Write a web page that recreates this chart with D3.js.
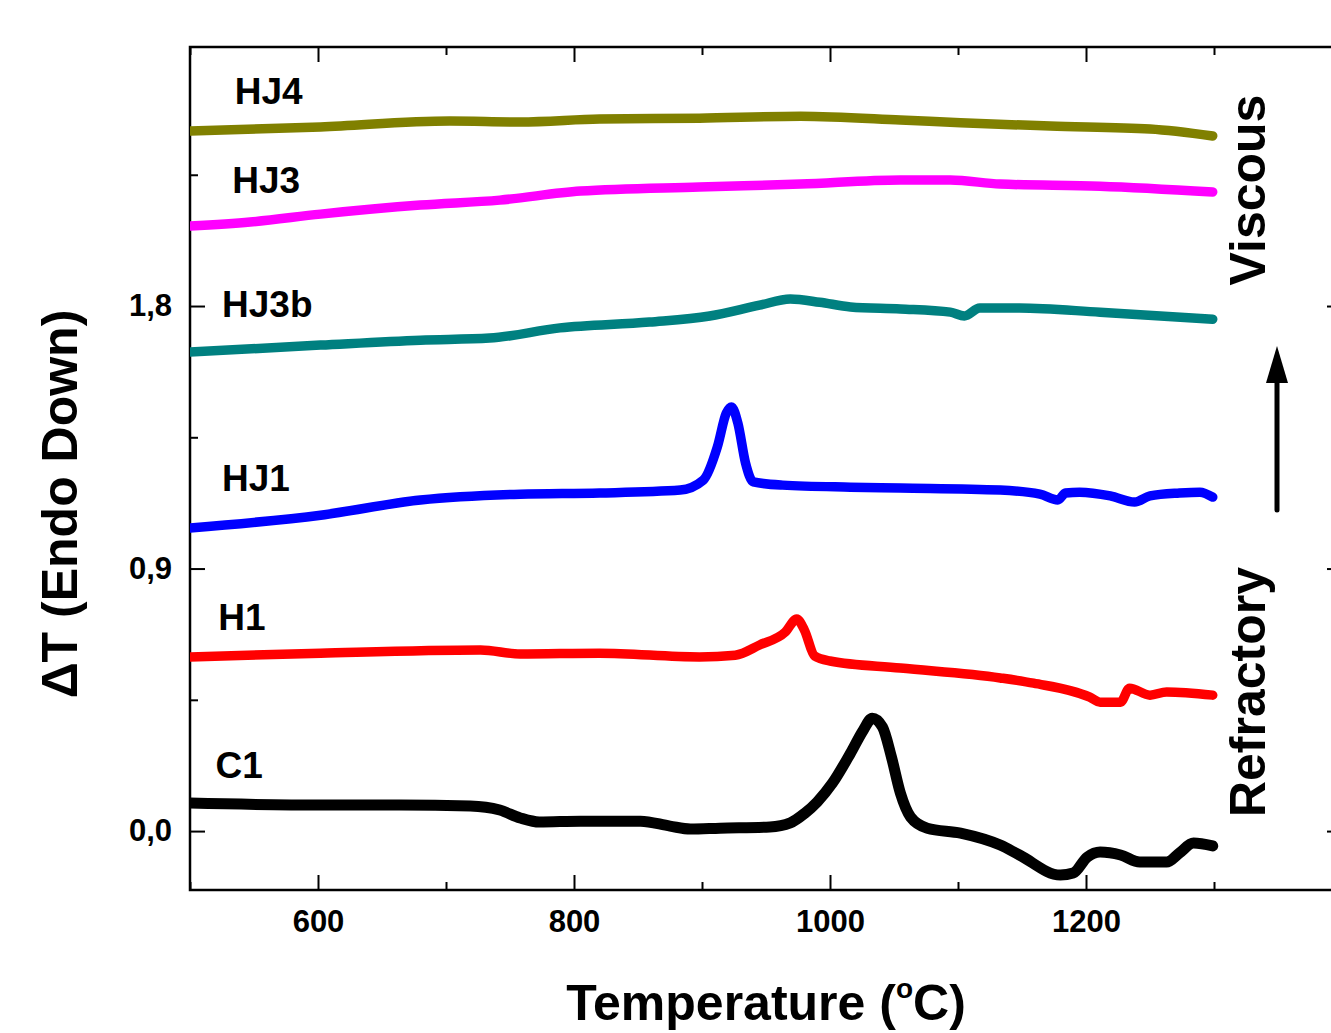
<!DOCTYPE html>
<html>
<head>
<meta charset="utf-8">
<script src="https://cdn.jsdelivr.net/npm/d3@7/dist/d3.min.js"></script>
<style>
    body { margin: 0; background: #fff; }
    text { font-family: Arial, "Liberation Sans", sans-serif; font-weight: bold; fill: #000; }
    .tick-label { font-size: 31px; }
    .curve-label { font-size: 37px; }
    .axis-title { font-size: 50px; }
</style>
</head>
<body>
<div id="dta-chart"></div>
<script>

// DTA curves, temperature (C) / delta T pairs
var C1 = [[500,0.096],[602,0.089],[664,0.089],[719,0.086],[742,0.072],[758,0.045],[773,0.031],[805,0.034],
    [852,0.034],[875,0.017],[891,0.007],[914,0.010],[953,0.014],[969,0.028],[980,0.060],[990,0.100],
    [1002,0.165],[1016,0.267],[1026,0.346],[1033,0.387],[1041,0.357],[1048,0.254],[1055,0.130],[1063,0.048],
    [1076,0.010],[1102,-0.007],[1133,-0.048],[1148,-0.082],[1180,-0.151],[1190,-0.144],[1201,-0.089],
    [1211,-0.072],[1227,-0.082],[1242,-0.106],[1263,-0.106],[1273,-0.075],[1284,-0.041],[1299,-0.051]];

var H1 = [[500,0.597],[602,0.610],[727,0.621],[758,0.607],[820,0.610],[898,0.597],[926,0.603],[945,0.638],
    [965,0.682],[974,0.727],[980,0.689],[988,0.600],[1000,0.583],[1055,0.559],[1133,0.525],[1159,0.507],
    [1203,0.459],[1211,0.442],[1227,0.442],[1234,0.490],[1250,0.466],[1263,0.477],[1299,0.466]];

var HJ1 = [[500,1.039],[602,1.083],[680,1.135],[758,1.155],[820,1.159],[883,1.169],[901,1.203],[912,1.317],
    [919,1.433],[923,1.454],[928,1.399],[934,1.262],[940,1.197],[963,1.186],[1016,1.179],[1055,1.176],
    [1133,1.169],[1164,1.155],[1178,1.135],[1184,1.159],[1195,1.162],[1219,1.149],[1238,1.128],[1250,1.149],
    [1273,1.159],[1289,1.162],[1299,1.145]];

var HJ3b = [[500,1.642],[602,1.666],[680,1.683],[734,1.690],[789,1.725],[859,1.745],[906,1.766],[945,1.803],
    [969,1.824],[992,1.813],[1016,1.797],[1055,1.790],[1094,1.779],[1105,1.766],[1117,1.793],[1148,1.793],
    [1211,1.779],[1299,1.755]];

var HJ3 = [[500,2.074],[547,2.088],[602,2.115],[680,2.146],[742,2.163],[805,2.194],[898,2.208],[977,2.218],
    [1055,2.232],[1094,2.232],[1133,2.218],[1211,2.211],[1299,2.191]];

var HJ4 = [[500,2.400],[602,2.414],[703,2.434],[758,2.431],[820,2.441],[898,2.444],[977,2.451],[1055,2.438],
    [1102,2.428],[1172,2.417],[1250,2.407],[1299,2.383]];

var seriesNames = ["HJ4", "HJ3", "HJ3b", "HJ1", "H1", "C1"];
var seriesData = [HJ4, HJ3, HJ3b, HJ1, H1, C1];
var seriesColors = ["#808000", "#ff00ff", "#008080", "#0000ff", "#ff0000", "#000000"];

// where each name is written (temperature, delta T of the baseline)
var labelAnchors = [[535,2.493],[533,2.187],[525,1.762],[525,1.166],[522,0.689],[520,0.182]];

// axis ticks
var xMajorTicks = [600, 800, 1000, 1200];
var xMinorTicks = [500, 700, 900, 1100, 1300];
var yMajorTicks = [0, 0.9, 1.8];
var yMinorTicks = [0.45, 1.35, 2.25];

/*
 *  DtaVis - draws stacked DTA curves
 */

DtaVis = function(_parentElement) {
    this.parentElement = _parentElement;
    this.initVis();
}

DtaVis.prototype.initVis = function() {
    var vis = this;

    vis.margin = { top: 47, right: -11, bottom: 143, left: 190 };
    vis.totalWidth = 1331;
    vis.totalHeight = 1033;
    vis.width = vis.totalWidth - vis.margin.left - vis.margin.right;
    vis.height = vis.totalHeight - vis.margin.top - vis.margin.bottom;

    vis.root = d3.select("#" + vis.parentElement).append("svg")
        .attr("width", vis.totalWidth)
        .attr("height", vis.totalHeight);

    vis.svg = vis.root.append("g")
        .attr("transform", "translate(" + vis.margin.left + "," + vis.margin.top + ")");

    vis.x = d3.scaleLinear().domain([500, 1400]).range([0, vis.width]);
    vis.y = d3.scaleLinear().domain([-0.202, 2.688]).range([vis.height, 0]);

    vis.svg.append("clipPath").attr("id", "plot-clip")
        .append("rect")
        .attr("width", vis.width)
        .attr("height", vis.height);

    vis.drawAxes();
    vis.drawCurves();
    vis.drawNotes();
};

DtaVis.prototype.drawAxes = function() {
    var vis = this;

    // ticks point inwards on all four sides, no labels on top/right
    function addX(g, ticks, len, labels) {
        g.call(d3.axisBottom(vis.x).tickValues(ticks).tickSize(-len).tickPadding(20)
            .tickFormat(labels ? d3.format("d") : ""));
    }
    function addY(g, ticks, len, labels) {
        g.call(d3.axisLeft(vis.y).tickValues(ticks).tickSize(-len).tickPadding(18)
            .tickFormat(labels ? function(d) { return d3.format(".1f")(d).replace(".", ","); } : ""));
    }

    var bottom = vis.svg.append("g").attr("transform", "translate(0," + vis.height + ")");
    addX(bottom.append("g"), xMinorTicks, 8, false);
    addX(bottom.append("g"), xMajorTicks, 15, true);

    var top = vis.svg.append("g");
    top.append("g").call(d3.axisTop(vis.x).tickValues(xMinorTicks).tickSize(-8).tickFormat(""));
    top.append("g").call(d3.axisTop(vis.x).tickValues(xMajorTicks).tickSize(-15).tickFormat(""));

    var left = vis.svg.append("g");
    addY(left.append("g"), yMinorTicks, 8, false);
    addY(left.append("g"), yMajorTicks, 15, true);

    var right = vis.svg.append("g").attr("transform", "translate(" + vis.width + ",0)");
    right.append("g").call(d3.axisRight(vis.y).tickValues(yMinorTicks).tickSize(-8).tickFormat(""));
    right.append("g").call(d3.axisRight(vis.y).tickValues(yMajorTicks).tickSize(-15).tickFormat(""));

    vis.svg.selectAll(".domain").remove();
    vis.svg.selectAll(".tick line").attr("stroke", "#000").attr("stroke-width", 2);
    vis.svg.selectAll(".tick text")
        .attr("class", "tick-label")
        .attr("fill", "#000");

    // frame
    vis.svg.append("rect")
        .attr("width", vis.width)
        .attr("height", vis.height)
        .attr("fill", "none")
        .attr("stroke", "#000")
        .attr("stroke-width", 2.5);

    // axis titles
    var xt = vis.root.append("text")
        .attr("class", "axis-title")
        .attr("x", 766)
        .attr("y", 1020)
        .attr("text-anchor", "middle");
    xt.append("tspan").text("Temperature (");
    xt.append("tspan").text("o").attr("font-size", "28px").attr("dy", -22);
    xt.append("tspan").text("C)").attr("dy", 22);

    vis.root.append("text")
        .attr("class", "axis-title")
        .attr("transform", "translate(77,504) rotate(-90)")
        .attr("text-anchor", "middle")
        .text("\u0394T (Endo Down)");
};

DtaVis.prototype.drawCurves = function() {
    var vis = this;

    var line = d3.line()
        .x(function(d) { return vis.x(d[0]); })
        .y(function(d) { return vis.y(d[1]); })
        .curve(d3.curveMonotoneX);

    vis.svg.append("g")
        .attr("clip-path", "url(#plot-clip)")
        .selectAll("path")
        .data(seriesData)
        .enter().append("path")
        .attr("d", line)
        .attr("fill", "none")
        .attr("stroke", function(d, i) { return seriesColors[i]; })
        .attr("stroke-width", function(d, i) { return i == 5 ? 11 : 9.5; })
        .attr("stroke-linecap", "round")
        .attr("stroke-linejoin", "round");

    vis.svg.selectAll(".curve-label")
        .data(seriesNames)
        .enter().append("text")
        .attr("class", "curve-label")
        .attr("x", function(d, i) { return vis.x(labelAnchors[i][0]); })
        .attr("y", function(d, i) { return vis.y(labelAnchors[i][1]); })
        .text(function(d) { return d; });
};

DtaVis.prototype.drawNotes = function() {
    var vis = this;

    vis.root.append("text")
        .attr("class", "axis-title")
        .attr("transform", "translate(1265,190) rotate(-90)")
        .attr("text-anchor", "middle")
        .text("Viscous");

    vis.root.append("text")
        .attr("class", "axis-title")
        .attr("transform", "translate(1265,692) rotate(-90)")
        .attr("text-anchor", "middle")
        .text("Refractory");

    // arrow from refractory towards viscous
    vis.root.append("line")
        .attr("x1", 1277).attr("x2", 1277)
        .attr("y1", 510).attr("y2", 375)
        .attr("stroke", "#000")
        .attr("stroke-width", 5)
        .attr("stroke-linecap", "round");

    vis.root.append("path")
        .attr("d", "M1277,346 L1288,383 L1266,383 Z")
        .attr("fill", "#000");
};

new DtaVis("dta-chart");

</script>
</body>
</html>
